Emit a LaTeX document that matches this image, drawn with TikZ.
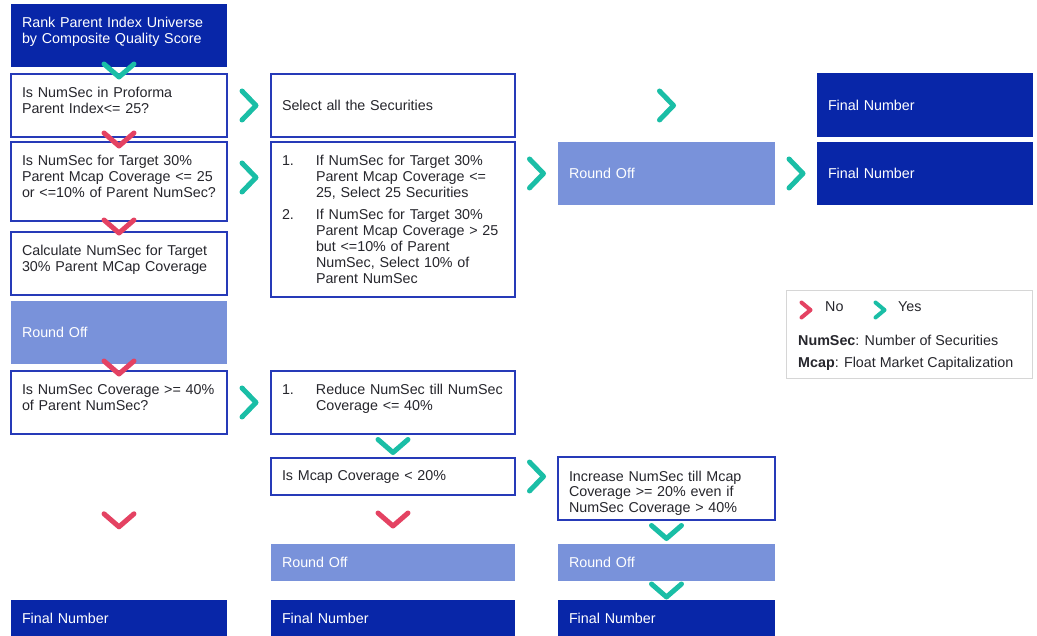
\documentclass[tikz,border=0pt]{standalone}
\usepackage{fontspec}
\setmainfont{Liberation Sans}
\usetikzlibrary{calc,positioning}
\definecolor{deepblue}{RGB}{8,38,168}
\definecolor{softblue}{RGB}{121,146,218}
\definecolor{rimblue}{RGB}{38,58,184}
\definecolor{yesteal}{RGB}{26,190,166}
\definecolor{nored}{RGB}{228,66,98}
\definecolor{bodyink}{RGB}{38,38,44}
\definecolor{legendrim}{RGB}{214,214,214}
\newcommand{\numitem}[1]{\makebox[34pt][l]{#1}}
\newcommand{\numskip}{\hspace*{34pt}}

\begin{document}
\begin{tikzpicture}[x=1pt, y=-1pt,
    stepbase/.style={anchor=north west, inner xsep=11pt, inner ysep=0pt, outer sep=0pt,
      align=left, font=\fontsize{14.3}{16}\selectfont},
    askbox/.style={stepbase, draw=rimblue, line width=2pt, fill=white, text=bodyink},
    endbox/.style={stepbase, fill=deepblue, text=white},
    roundbox/.style={stepbase, fill=softblue, text=white},
    topline/.style={text height=24pt, text depth=#1},
    colA/.style={text width=194pt},
    colB/.style={text width=222pt},
    colC/.style={text width=195pt},
    legendtext/.style={inner sep=0pt, text=bodyink, font=\fontsize{14.3}{22}\selectfont},
    chev/.style={line width=5pt, line cap=round, line join=round},
    chevdown/.pic={\draw[chev] (-15,-6.5) -- (0,6.5) -- (15,-6.5);},
    chevright/.pic={\draw[chev] (-7,-14.5) -- (7,0) -- (-7,14.5);},
    chevsmall/.pic={\draw[chev, line width=4pt] (-4.5,-7.5) -- (4.5,0) -- (-4.5,7.5);}]
  \useasboundingbox (0,0) rectangle (1037,636);

  % first column
  \node[endbox, colA, topline=39pt] (rank) at (11,4) {Rank Parent Index Universe\\by Composite Quality Score};
  \node[askbox, colA, topline=39pt] (proforma) at (11,74) {Is NumSec in Proforma\\Parent Index<= 25?};
  \node[askbox, colA, topline=55pt] (target) at (11,142) {Is NumSec for Target 30\%\\Parent Mcap Coverage <= 25\\or <=10\% of Parent NumSec?};
  \node[askbox, colA, topline=39pt] (calcsec) at (11,232) {Calculate NumSec for Target\\30\% Parent MCap Coverage};
  \node[roundbox, colA, minimum height=63pt] (roundA) at (11,301) {Round Off};
  \node[askbox, colA, topline=39pt] (cover) at (11,371) {Is NumSec Coverage >= 40\%\\of Parent NumSec?};
  \node[endbox, colA, minimum height=36pt] (finalA) at (11,600) {Final Number};

  % second column
  \node[askbox, colB, minimum height=63pt] (selall) at (271,74) {Select all the Securities};
  \node[askbox, colB, topline=131pt] (rules) at (271,142)
    {\numitem{1.}If NumSec for Target 30\%\\\numskip Parent Mcap Coverage <=\\\numskip 25, Select 25 Securities\\[6pt]
     \numitem{2.}If NumSec for Target 30\%\\\numskip Parent Mcap Coverage > 25\\\numskip but <=10\% of Parent\\\numskip NumSec, Select 10\% of\\\numskip Parent NumSec};
  \node[askbox, colB, topline=39pt] (reduce) at (271,371) {\numitem{1.}Reduce NumSec till NumSec\\\numskip Coverage <= 40\%};
  \node[askbox, colB, minimum height=37pt] (mcapask) at (271,458) {Is Mcap Coverage < 20\%};
  \node[roundbox, colB, minimum height=37pt] (roundB) at (271,544) {Round Off};
  \node[endbox, colB, minimum height=36pt] (finalB) at (271,600) {Final Number};

  % third column
  \node[roundbox, colC, minimum height=63pt] (roundC) at (558,142) {Round Off};
  \node[askbox, colC, topline=39pt] (increase) at (558,457) {Increase NumSec till Mcap\\Coverage >= 20\% even if\\NumSec Coverage > 40\%};
  \node[roundbox, colC, minimum height=37pt] (roundD) at (558,544) {Round Off};
  \node[endbox, colC, minimum height=36pt] (finalC) at (558,600) {Final Number};

  % fourth column
  \node[endbox, colA, minimum height=64pt] (finalD) at (817,73) {Final Number};
  \node[endbox, colA, minimum height=63pt] (finalE) at (817,142) {Final Number};

  % legend
  \node[draw=legendrim, line width=1pt, fill=white, anchor=north west, inner sep=0pt,
        minimum width=246pt, minimum height=88pt] (legend) at (786,290) {};
  \node[legendtext, anchor=west] (nokey) at ($(legend.north west)+(39,17)$) {No};
  \node[legendtext, anchor=west] (yeskey) at ($(legend.north west)+(112,17)$) {Yes};
  \node[legendtext, anchor=north west, align=left] (glossary) at ($(legend.north west)+(12,45)$)
    {\textbf{NumSec}: Number of Securities\\\textbf{Mcap}: Float Market Capitalization};
  \pic[color=nored] at ($(legend.north west)+(20,20)$) {chevsmall};
  \pic[color=yesteal] at ($(legend.north west)+(94,20)$) {chevsmall};

  % yes / no chevrons
  \pic[color=yesteal] at ($(rank.south)!0.5!(proforma.north)$) {chevdown};
  \pic[color=nored] at ($(proforma.south)!0.5!(target.north)$) {chevdown};
  \pic[color=nored] at ($(target.south)!0.5!(calcsec.north)$) {chevdown};
  \pic[color=nored] at ($(roundA.south)!0.5!(cover.north)$) {chevdown};
  \pic[color=nored] at ($(cover.south)!0.52!(finalA.north)$) {chevdown};
  \pic[color=yesteal] at ($(reduce.south)!0.5!(mcapask.north)$) {chevdown};
  \pic[color=nored] at ($(mcapask.south)!0.5!(roundB.north)$) {chevdown};
  \pic[color=yesteal] at ($(increase.south)!0.5!(roundD.north)$) {chevdown};
  \pic[color=yesteal] at ($(roundD.south)!0.5!(finalC.north)$) {chevdown};
  \pic[color=yesteal] at ($(proforma.east)!0.5!(selall.west)$) {chevright};
  \pic[color=yesteal] at ($(target.east)!0.5!(target.east -| rules.west)+(0,-4)$) {chevright};
  \pic[color=yesteal] at ($(rules.east |- roundC.west)!0.5!(roundC.west)$) {chevright};
  \pic[color=yesteal] at ($(roundC.east)!0.5!(finalE.west)$) {chevright};
  \pic[color=yesteal] at (roundC.north |- selall.east) {chevright};
  \pic[color=yesteal] at ($(cover.east)!0.5!(reduce.west)$) {chevright};
  \pic[color=yesteal] at ($(mcapask.east)!0.5!(increase.west |- mcapask.east)$) {chevright};
\end{tikzpicture}
\end{document}
